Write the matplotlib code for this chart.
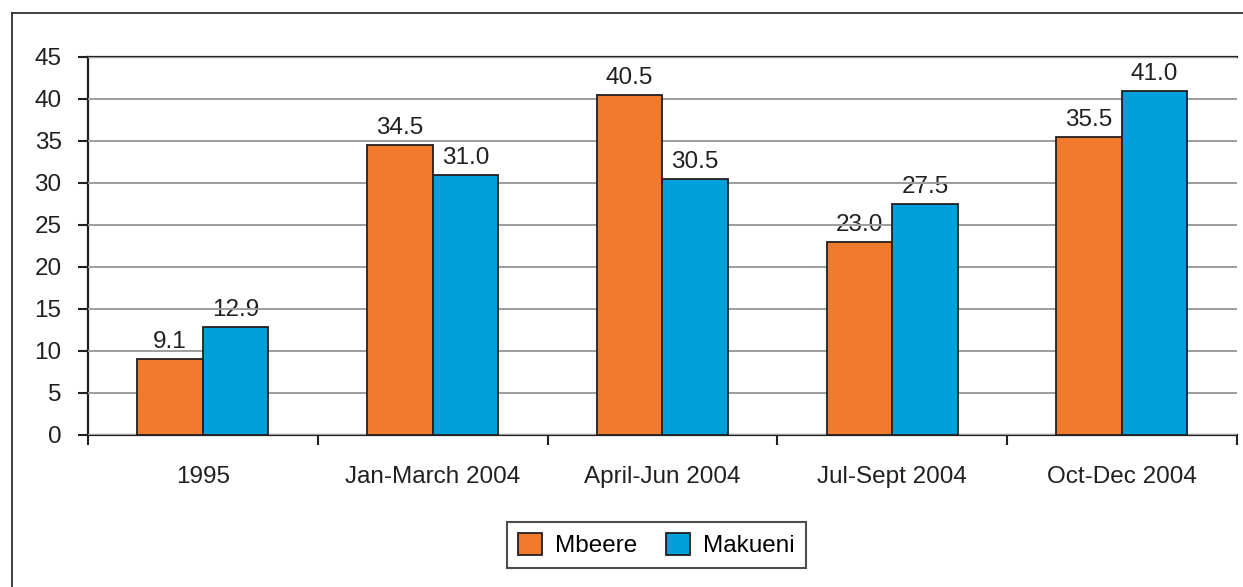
import matplotlib.pyplot as plt
import numpy as np
from matplotlib.lines import Line2D

plt.rcParams['font.family'] = ['Liberation Sans', 'DejaVu Sans']

categories = ['1995', 'Jan-March 2004', 'April-Jun 2004', 'Jul-Sept 2004', 'Oct-Dec 2004']
mbeere = [9.1, 34.5, 40.5, 23.0, 35.5]
makueni = [12.9, 31.0, 30.5, 27.5, 41.0]
yticks = [0, 5, 10, 15, 20, 25, 30, 35, 40, 45]

orange = '#F07A2E'
blue = '#009FDA'
edge = '#231F20'
fs = 17.5

fig = plt.figure(figsize=(12.43, 5.87), dpi=100)
ax = fig.add_axes([0.0708, 0.259, 0.9242, 0.644])

x = np.arange(len(categories))
w = 0.285
b1 = ax.bar(x - w/2, mbeere, w, color=orange, edgecolor=edge, linewidth=1.3, label='Mbeere', zorder=3)
b2 = ax.bar(x + w/2, makueni, w, color=blue, edgecolor=edge, linewidth=1.3, label='Makueni', zorder=3)

# value labels (sit under the grid lines like in the original)
for xs, vals in [(x - w/2, mbeere), (x + w/2, makueni)]:
    for a, b in zip(xs, vals):
        ax.text(a, b + 0.7, '%.1f' % b, ha='center', va='bottom', fontsize=fs,
                color='#231F20', zorder=0.3)

ax.set_xlim(-0.5, len(categories) - 0.5)
ax.set_ylim(0, 45)
ax.set_yticks(yticks)
ax.yaxis.grid(True, color='#9D9D9D', linewidth=1.4, zorder=1)
ax.set_axisbelow(False)
for gl in ax.yaxis.get_gridlines():
    gl.set_zorder(1)

ax.set_xticks(x)
ax.set_xticklabels(categories, fontsize=fs, color='#231F20')
ax.tick_params(axis='x', length=0, pad=22)
ax.set_xticks(np.arange(-0.5, len(categories) + 0.5, 1), minor=True)
ax.tick_params(axis='x', which='minor', length=7, width=1.5, direction='out', color=edge)
ax.tick_params(axis='y', length=7, width=1.5, direction='out', color=edge,
               labelsize=fs, labelcolor='#231F20', pad=12)

ax.spines['right'].set_visible(False)
for s in ['top', 'left', 'bottom']:
    ax.spines[s].set_color(edge)
    ax.spines[s].set_linewidth(1.6)

leg = fig.legend(handles=[b1, b2], loc='center', bbox_to_anchor=(0.528, 0.0716), ncol=2,
                 fontsize=fs, frameon=True, fancybox=False, edgecolor=edge,
                 handlelength=1.0, handleheight=1.0, columnspacing=1.15, handletextpad=0.55,
                 borderpad=0.45, borderaxespad=0)
leg.get_frame().set_linewidth(1.5)

# outer frame (runs off the right and bottom edges)
fig.add_artist(Line2D([12/1243, 12/1243], [0, 1 - 13/587], transform=fig.transFigure,
                      color=edge, linewidth=1.2))
fig.add_artist(Line2D([12/1243, 1], [1 - 13/587, 1 - 13/587], transform=fig.transFigure,
                      color=edge, linewidth=1.2))

plt.savefig('out.png', dpi=100)
